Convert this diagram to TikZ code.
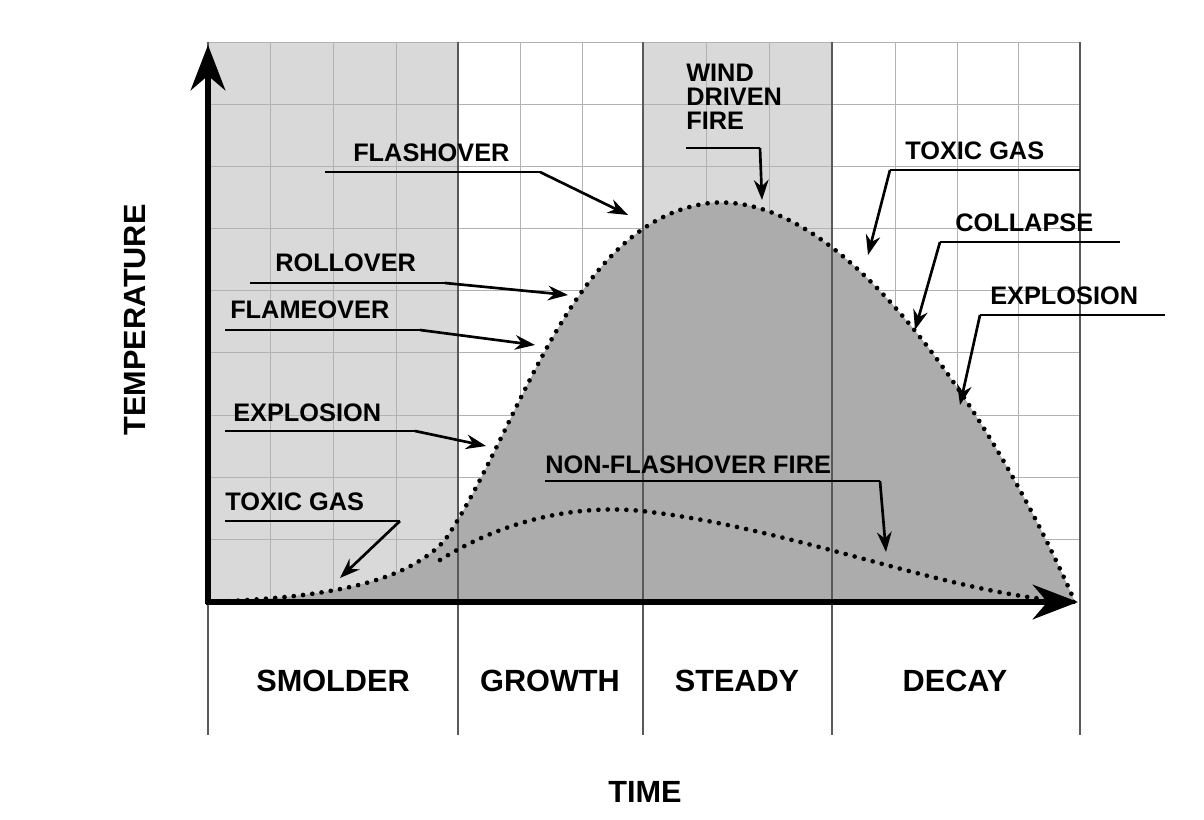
\documentclass[tikz,border=0pt]{standalone}
\usepackage{fontspec}
\setmainfont{Liberation Sans}
\usetikzlibrary{arrows.meta}
\tikzset{
  lbl/.style={anchor=south west,inner sep=0pt,font=\fontsize{19}{21}\selectfont\bfseries},
  phase/.style={inner sep=0pt,font=\fontsize{23}{25}\selectfont\bfseries},
  uline/.style={line width=2pt},
  pointer/.style={line width=2pt,-{Stealth[length=15pt,width=11pt]}},
  gridline/.style={gray!60,line width=0.6pt},
  dotcurve/.style={line width=3.5pt,dash pattern=on 0pt off 7pt,line cap=round}
}
\begin{document}
\begin{tikzpicture}[x=0.75pt,y=0.75pt,yscale=-1,xscale=1]
\useasboundingbox (0,0) rectangle (1204,820);
\fill[white] (0,0) rectangle (1204,820);

% shaded phases
\fill[gray!30] (208,42) rectangle (458,602);
\fill[gray!30] (643,42) rectangle (832,602);

% grid
\foreach \gx in {270,333,396,520,582,706,769,895,957,1018,1080}
  \draw[gridline] (\gx,42) -- (\gx,602);
\foreach \gy in {42,104,166,228,290,352,415,477,539}
  \draw[gridline] (208,\gy) -- (1080,\gy);

% main curve area
\fill[gray!65] (210,602) .. controls (300,598) and (400,590) .. (445,540) .. controls (520,430) and (570,220) .. (710,203) .. controls (850,190) and (1000,430) .. (1075,602) -- cycle;

% phase separators
\foreach \gx in {208,458,643,832,1080}
  \draw[gray!70!black,line width=0.8pt] (\gx,42) -- (\gx,735);

% curves
\draw[dotcurve] (210,602) .. controls (300,598) and (400,590) .. (445,540) .. controls (520,430) and (570,220) .. (710,203) .. controls (850,190) and (1000,430) .. (1075,602);
\draw[dotcurve] (440,560) .. controls (520,510) and (600,505) .. (650,512) .. controls (800,530) and (950,595) .. (1075,602);

% axes
\draw[line width=4pt,-{Stealth[length=34pt,width=26pt]}] (208,604) -- (208,45);
\draw[line width=4pt,-{Stealth[length=34pt,width=26pt]}] (206,602) -- (1078,602);

% labels left
\node[lbl] (flashover) at (353,162) {FLASHOVER};
\draw[uline] (325,172) coordinate (flA) -- (540,172) coordinate (flB);
\draw[pointer] (flB) -- (628,215);

\node[lbl] (rollover) at (275,272) {ROLLOVER};
\draw[uline] (250,283) -- (445,283) coordinate (roB);
\draw[pointer] (roB) -- (568,295);

\node[lbl] (flameover) at (230,319) {FLAMEOVER};
\draw[uline] (225,330) -- (420,330) coordinate (fmB);
\draw[pointer] (fmB) -- (535,345);

\node[lbl] (explosionL) at (233,422) {EXPLOSION};
\draw[uline] (225,431) -- (415,431) coordinate (exB);
\draw[pointer] (exB) -- (486,446);

\node[lbl] (toxicL) at (225,511) {TOXIC GAS};
\draw[uline] (225,521) -- (400,521) coordinate (txB);
\draw[pointer] (txB) -- (340,578);

\node[lbl] (nonflash) at (545,474) {NON-FLASHOVER FIRE};
\draw[uline] (545,481) -- (880,481) coordinate (nfB);
\draw[pointer] (nfB) -- (886,552);

% labels top / right
\node[lbl] (wind) at (686,138) {\begin{tabular}{@{}l@{}}WIND\\[-3pt]DRIVEN\\[-3pt]FIRE\end{tabular}};
\draw[uline] (686,148) -- (760,148) coordinate (wdB);
\draw[pointer] (wdB) -- (762,200);

\node[lbl] (toxicR) at (905,160) {TOXIC GAS};
\draw[uline] (890,170) coordinate (trA) -- (1080,170);
\draw[pointer] (trA) -- (868,255);

\node[lbl] (collapse) at (955,232) {COLLAPSE};
\draw[uline] (940,242) coordinate (coA) -- (1120,242);
\draw[pointer] (coA) -- (915,330);

\node[lbl] (explosionR) at (990,305) {EXPLOSION};
\draw[uline] (980,315) coordinate (erA) -- (1165,315);
\draw[pointer] (erA) -- (960,405);

% phase names
\node[phase] (smolder) at (333,681) {SMOLDER};
\node[phase] (growth) at (550,681) {GROWTH};
\node[phase] (steady) at (737,681) {STEADY};
\node[phase] (decay) at (955,681) {DECAY};
\node[phase] (time) at (645,792) {TIME};
\node[phase,rotate=90] (temp) at (135,320) {TEMPERATURE};
\end{tikzpicture}
\end{document}
